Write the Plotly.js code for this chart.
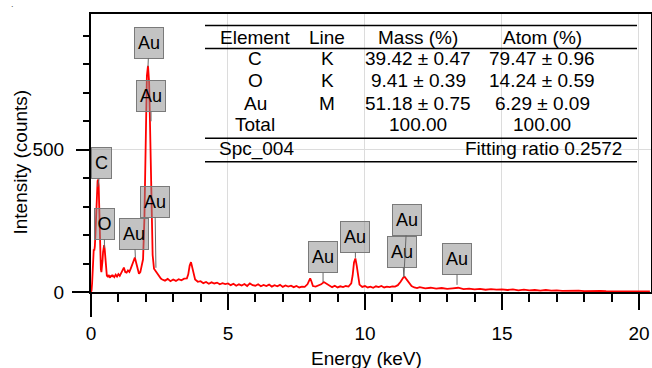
<!DOCTYPE html>
<html>
<head>
<meta charset="utf-8">
<script src="https://cdn.plot.ly/plotly-3.0.1.min.js"></script>
<style>html,body{margin:0;padding:0;background:#fff;}#chart{width:652px;height:368px;}</style>
</head>
<body>
<div id="chart"></div>
<script>
// ---------- DATA ----------
const energyKeV = [
  0.00,0.02,0.04,0.06,0.08,0.10,0.12,0.14,0.16,0.18,0.20,0.22,0.24,0.26,0.28,0.30,0.32,0.34,0.36,0.38,
  0.40,0.42,0.44,0.46,0.48,0.50,0.52,0.54,0.56,0.58,0.60,0.62,0.64,0.66,0.68,0.70,0.72,0.74,0.76,0.78,0.80,
  0.85,0.90,0.95,1.00,1.05,1.10,1.15,1.20,1.25,1.30,1.35,1.40,1.45,1.50,1.55,1.60,1.65,1.70,1.75,1.80,1.85,1.90,
  1.95,2.00,2.04,2.08,2.12,2.15,2.18,2.21,2.25,2.30,2.35,2.40,2.45,2.50,2.55,2.60,
  2.7,2.8,2.9,3.0,3.1,3.2,3.3,3.4,3.5,3.55,3.6,3.65,3.7,3.75,3.8,3.9,
  4.0,4.1,4.2,4.3,4.4,4.5,4.6,4.7,4.8,4.9,5.0,5.1,5.2,5.3,5.4,5.5,5.6,5.7,5.8,5.9,
  6.0,6.1,6.2,6.3,6.4,6.5,6.6,6.7,6.8,6.9,7.0,7.1,7.2,7.3,7.4,7.5,7.6,7.7,7.8,7.9,7.95,
  8.0,8.05,8.1,8.2,8.3,8.4,8.5,8.6,8.7,8.8,8.9,9.0,9.1,9.2,9.3,9.4,9.5,9.55,9.6,9.65,9.7,9.75,9.8,9.9,
  10.0,10.1,10.2,10.3,10.4,10.5,10.6,10.7,10.8,10.9,11.0,11.1,11.2,11.3,11.4,11.45,11.5,11.6,11.7,11.8,11.9,12.0,
  12.2,12.4,12.6,12.8,13.0,13.2,13.4,13.6,13.8,14.0,14.2,14.4,14.6,14.8,15.0,15.2,15.4,15.6,15.8,
  16.0,16.2,16.4,16.6,16.8,17.0,17.2,17.4,17.6,17.8,18.0,18.2,18.4,18.6,18.8,19.0,19.2,19.4,19.6,19.8,
  20.0,20.2,20.4
];
const intensityCounts = [
  0,5,30,90,130,150,145,160,200,260,320,365,390,395,375,300,190,110,80,70,
  85,110,140,160,165,150,115,80,62,55,58,52,60,55,57,50,58,54,60,56,58,
  52,61,54,63,57,67,73,86,70,68,76,71,82,92,108,121,104,78,64,70,88,115,
  260,560,760,795,740,610,420,240,130,82,74,66,58,50,47,44,
  40,46,38,44,39,45,41,47,48,62,92,105,84,56,44,36,
  38,31,35,29,34,30,33,27,31,28,30,24,29,22,27,23,28,21,30,24,
  22,27,20,25,21,26,19,24,20,25,18,23,19,22,17,21,16,19,18,27,40,
  48,36,21,19,23,27,35,29,20,17,22,16,20,17,21,19,30,58,104,118,92,48,26,18,
  21,16,19,15,20,17,21,16,19,17,20,19,24,36,51,53,47,31,21,16,14,17,
  13,15,12,14,11,13,15,10,12,9,11,8,10,8,9,7,9,6,8,
  6,7,5,7,5,6,4,5,4,5,3,4,3,4,3,3,2,3,2,3,
  2,2,2
];

const peakLabels   = ['Au', 'Au', 'C', 'O', 'Au', 'Au', 'Au', 'Au', 'Au', 'Au', 'Au'];
const peakEnergy   = [2.08, 2.19, 0.245, 0.49, 1.62, 2.37, 8.47, 9.65, 11.42, 11.42, 13.36];
const peakCounts   = [792, 600, 370, 155, 120, 85, 35, 120, 53, 53, 25];

const xTickVals = [0, 5, 10, 15, 20];
const yTickVals = [0, 500];

const tableHeader = ['Element', 'Line', 'Mass (%)', 'Atom (%)'];
const tableElement = ['C', 'O', 'Au', 'Total'];
const tableLine    = ['K', 'K', 'M', ''];
const tableMass    = ['39.42 ± 0.47', '9.41 ± 0.39', '51.18 ± 0.75', '100.00'];
const tableAtom    = ['79.47 ± 0.96', '14.24 ± 0.59', '6.29 ± 0.09', '100.00'];
const spectrumName = 'Spc_004';
const fittingText  = 'Fitting ratio 0.2572';

// ---------- LAYOUT HELPERS (pixel -> paper) ----------
const PL = 91, PR = 651, PT = 14, PB = 292;
const px = v => (v - PL) / (PR - PL);
const py = v => (PB - v) / (PB - PT);
const FONT = 'Liberation Sans, Arial, Helvetica, sans-serif';

// label box offsets (pixels), in the order of peakLabels
const labelOffsets = [[1,-24],[0,-25],[4,-24],[0,-24],[-1,-24],[-1,-66],[0,-25],[0,-21],[3,-57],[-1.5,-25],[0,-26]];
const drawOrder = [2,3,4,5,6,7,9,8,10,1,0];

const annotations = [];
drawOrder.forEach(i => {
  const single = peakLabels[i].length === 1;
  annotations.push({
    x: peakEnergy[i], y: peakCounts[i], xref: 'x', yref: 'y',
    text: peakLabels[i], showarrow: true, arrowhead: 0, arrowwidth: 1, arrowcolor: '#666',
    standoff: 0, ax: labelOffsets[i][0], ay: labelOffsets[i][1],
    bgcolor: 'rgba(135,135,135,0.5)', bordercolor: '#7a7a7a', borderwidth: 1, borderpad: 0,
    width: single ? 19 : 28, height: 30, align: 'center', valign: 'middle',
    font: {family: FONT, size: 18, color: '#000'}
  });
});

// table text
const colX = [255, 327, 418, 542];
const rowY = [58.5, 80.5, 103, 125];
function tText(t, x, y, anchor) {
  annotations.push({text: t, xref: 'paper', yref: 'paper', x: px(x), y: py(y),
    xanchor: anchor || 'center', yanchor: 'middle', showarrow: false,
    font: {family: FONT, size: 19, color: '#000'}});
}
tableHeader.forEach((h, j) => tText(h, colX[j], 37.5));
for (let r = 0; r < tableElement.length; r++) {
  tText(tableElement[r], colX[0], rowY[r]);
  if (tableLine[r]) tText(tableLine[r], colX[1], rowY[r]);
  tText(tableMass[r], colX[2], rowY[r]);
  tText(tableAtom[r], colX[3], rowY[r]);
}
tText(spectrumName, 217, 148.5, 'left');
tText(fittingText, 624, 148.5, 'right');

// axis titles
annotations.push({text: 'Energy (keV)', xref: 'paper', yref: 'paper', x: px(366), y: py(358),
  xanchor: 'center', yanchor: 'middle', showarrow: false, font: {family: FONT, size: 19, color: '#000'}});
annotations.push({text: 'Intensity (counts)', xref: 'paper', yref: 'paper', x: px(20), y: py(162.5),
  xanchor: 'center', yanchor: 'middle', textangle: -90, showarrow: false, font: {family: FONT, size: 19, color: '#000'}});
annotations.push({text: '.', xref: 'paper', yref: 'paper', x: px(12), y: py(4),
  xanchor: 'center', yanchor: 'middle', showarrow: false, font: {family: FONT, size: 9, color: '#555'}});

// table rules and axis extensions
const shapes = [];
[25.5, 48.5, 138.3, 161.7].forEach(y => shapes.push({type: 'line', xref: 'paper', yref: 'paper',
  x0: px(205), x1: px(637), y0: py(y), y1: py(y), line: {color: '#000', width: 1.5}}));
shapes.push({type: 'line', xref: 'paper', yref: 'paper', x0: 0, x1: 0, y0: 0, y1: py(317), line: {color: '#000', width: 2}});
shapes.push({type: 'line', xref: 'paper', yref: 'paper', x0: px(72), x1: 0, y0: 0, y1: 0, line: {color: '#000', width: 2}});

const trace = {
  x: energyKeV, y: intensityCounts, type: 'scatter', mode: 'lines',
  line: {color: '#ff0000', width: 1.8}, hoverinfo: 'skip'
};

const layout = {
  width: 652, height: 368,
  margin: {l: PL, r: 652 - PR, t: PT, b: 368 - PB},
  paper_bgcolor: '#fff', plot_bgcolor: '#fff',
  showlegend: false,
  font: {family: FONT, size: 19, color: '#000'},
  xaxis: {
    range: [0, 20.44], tickvals: xTickVals, ticktext: xTickVals.map(String),
    ticks: 'outside', ticklen: 16, tickwidth: 2, tickcolor: '#000',
    minor: {dtick: 1, tick0: 0, ticks: 'outside', ticklen: 8, tickwidth: 2, tickcolor: '#000', showgrid: false},
    showline: true, mirror: true, linecolor: '#000', linewidth: 2,
    showgrid: true, gridcolor: '#dcdcdc', gridwidth: 1, zeroline: false,
    tickfont: {family: FONT, size: 19, color: '#000'}, ticklabelstandoff: 7, fixedrange: true
  },
  yaxis: {
    range: [0, 977], tickvals: yTickVals, ticktext: yTickVals.map(String),
    ticks: 'outside', ticklen: 13, tickwidth: 2, tickcolor: '#000',
    minor: {dtick: 100, tick0: 0, ticks: 'outside', ticklen: 6, tickwidth: 2, tickcolor: '#000', showgrid: false},
    showline: true, mirror: true, linecolor: '#000', linewidth: 2,
    showgrid: true, gridcolor: '#dcdcdc', gridwidth: 1, zeroline: false,
    tickfont: {family: FONT, size: 19, color: '#000'}, ticklabelstandoff: 8, fixedrange: true
  },
  annotations: annotations,
  shapes: shapes
};

Plotly.newPlot('chart', [trace], layout, {staticPlot: true, displayModeBar: false});
</script>
</body>
</html>
